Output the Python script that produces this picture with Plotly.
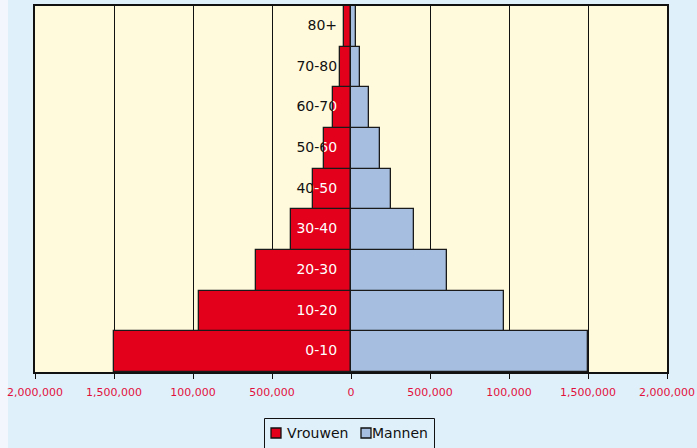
import plotly.graph_objects as go

# Population by age group (persons)
age_groups = ["0-10", "10-20", "20-30", "30-40", "40-50", "50-60", "60-70", "70-80", "80+"]
vrouwen = [1500000, 960000, 600000, 380000, 240000, 170000, 115000, 68000, 46000]
mannen = [1500000, 970000, 610000, 397000, 255000, 184000, 116000, 57000, 30000]

# Axis ticks as printed on the chart
tick_values = [-2000000, -1500000, -1000000, -500000, 0, 500000, 1000000, 1500000, 2000000]
tick_labels = ["2,000,000", "1,500,000", "100,000", "500,000", "0",
               "500,000", "100,000", "1,500,000", "2,000,000"]

series_names = ["Vrouwen", "Mannen"]

X_MAX = 2000000
LABEL_GAP = 88000          # labels end a little left of the centre line
FONT = "DejaVu Sans, Verdana, sans-serif"
RED = "#e2001a"
BLUE = "#a6bfe0"
PAGE_BG = "#dff0fb"
PLOT_BG = "#fffadb"
TICK_RED = "#e2103c"
INK = "#111111"

W, H = 697, 448
M_L, M_R, M_T, M_B = 35, 30, 6, 76
PW = W - M_L - M_R
PH = H - M_T - M_B


def px_x(px):
    """page pixel column -> paper x"""
    return (px - M_L) / PW


def px_y(py):
    """page pixel row -> paper y"""
    return (H - M_B - py) / PH


cat_range = [-0.5, len(age_groups) - 0.5]

fig = go.Figure()

# Age labels in black, sitting underneath the bars
fig.add_trace(go.Scatter(
    x=[-LABEL_GAP] * len(age_groups), y=age_groups, mode="text",
    text=age_groups, textposition="middle left",
    textfont=dict(family=FONT, size=14, color=INK),
    hoverinfo="skip", showlegend=False, xaxis="x", yaxis="y",
))

# Pyramid bars on an overlaid subplot so they cover the black labels
fig.add_trace(go.Bar(
    name=series_names[0], y=age_groups, x=[-v for v in vrouwen], orientation="h",
    customdata=vrouwen, hovertemplate="%{y}: %{customdata:,}<extra>Vrouwen</extra>",
    marker=dict(color=RED, line=dict(color="#1a1a1a", width=1.3)),
    xaxis="x2", yaxis="y2",
))
fig.add_trace(go.Bar(
    name=series_names[1], y=age_groups, x=mannen, orientation="h",
    hovertemplate="%{y}: %{x:,}<extra>Mannen</extra>",
    marker=dict(color=BLUE, line=dict(color="#1a1a1a", width=1.3)),
    xaxis="x2", yaxis="y2",
))

layout_axes = {}
# White copies of the labels, each clipped to the extent of its red bar
for i, (grp, v) in enumerate(zip(age_groups, vrouwen)):
    n = i + 3
    fig.add_trace(go.Scatter(
        x=[-LABEL_GAP], y=[grp], mode="text", text=[grp],
        textposition="middle left", cliponaxis=True,
        textfont=dict(family=FONT, size=14, color="white"),
        hoverinfo="skip", showlegend=False,
        xaxis=f"x{n}", yaxis=f"y{n}",
    ))
    left = (X_MAX - v) / (2 * X_MAX)
    layout_axes[f"xaxis{n}"] = dict(domain=[left, 0.5], range=[-v, 0], anchor=f"y{n}",
                                    visible=False, fixedrange=True)
    layout_axes[f"yaxis{n}"] = dict(domain=[0, 1], range=cat_range, type="category",
                                    categoryorder="array", categoryarray=age_groups,
                                    anchor=f"x{n}", visible=False, fixedrange=True)

# Legend box drawn below the chart
legend_shapes = [
    dict(type="rect", xref="paper", yref="paper",
         x0=px_x(264.5), x1=px_x(434.5), y0=px_y(470), y1=px_y(418.5),
         fillcolor=PAGE_BG, line=dict(color=INK, width=1), layer="above"),
    dict(type="rect", xref="paper", yref="paper",
         x0=px_x(271), x1=px_x(281), y0=px_y(438), y1=px_y(428),
         fillcolor=RED, line=dict(color=INK, width=1.3), layer="above"),
    dict(type="rect", xref="paper", yref="paper",
         x0=px_x(361), x1=px_x(371), y0=px_y(438), y1=px_y(428),
         fillcolor=BLUE, line=dict(color=INK, width=1.3), layer="above"),
]
legend_texts = [
    dict(text=series_names[0], xref="paper", yref="paper", x=px_x(285), y=px_y(433.5),
         xanchor="left", yanchor="middle", showarrow=False,
         font=dict(family=FONT, size=14, color=INK)),
    dict(text=series_names[1], xref="paper", yref="paper", x=px_x(370), y=px_y(433.5),
         xanchor="left", yanchor="middle", showarrow=False,
         font=dict(family=FONT, size=14, color=INK)),
]

fig.update_layout(
    width=W, height=H,
    margin=dict(l=M_L, r=M_R, t=M_T, b=M_B, autoexpand=False),
    paper_bgcolor=PAGE_BG,
    plot_bgcolor="rgba(0,0,0,0)",
    barmode="relative", bargap=0,
    showlegend=False,
    font=dict(family=FONT, size=14, color=INK),
    xaxis=dict(
        domain=[0, 1], range=[-X_MAX, X_MAX], anchor="y",
        tickmode="array", tickvals=tick_values, ticktext=tick_labels,
        tickfont=dict(family=FONT, size=11, color=TICK_RED),
        ticks="outside", ticklen=5, tickcolor=INK, tickwidth=1,
        ticklabelstandoff=4,
        showgrid=True, gridcolor=INK, gridwidth=1, zeroline=False,
        showline=True, mirror=True, linecolor=INK, linewidth=1.5,
        fixedrange=True,
    ),
    yaxis=dict(
        domain=[0, 1], range=cat_range, type="category", anchor="x",
        categoryorder="array", categoryarray=age_groups,
        showticklabels=False, ticks="", showgrid=False, zeroline=False,
        showline=True, mirror=True, linecolor=INK, linewidth=1.5,
        fixedrange=True,
    ),
    xaxis2=dict(overlaying="x", range=[-X_MAX, X_MAX], anchor="y2",
                visible=False, fixedrange=True),
    yaxis2=dict(overlaying="y", range=cat_range, type="category", anchor="x2",
                categoryorder="array", categoryarray=age_groups,
                visible=False, fixedrange=True),
    shapes=[
        # yellow plotting area
        dict(type="rect", xref="paper", yref="paper", x0=0, x1=1, y0=0, y1=1,
             fillcolor=PLOT_BG, line=dict(width=0), layer="below"),
        # pale strip along the left edge of the page
        dict(type="rect", xref="paper", yref="paper",
             x0=px_x(0), x1=px_x(8), y0=px_y(H), y1=px_y(0),
             fillcolor="#f3f6fc", line=dict(width=0), layer="below"),
    ] + legend_shapes,
    annotations=legend_texts,
    **layout_axes,
)

fig.write_html("out.html")
